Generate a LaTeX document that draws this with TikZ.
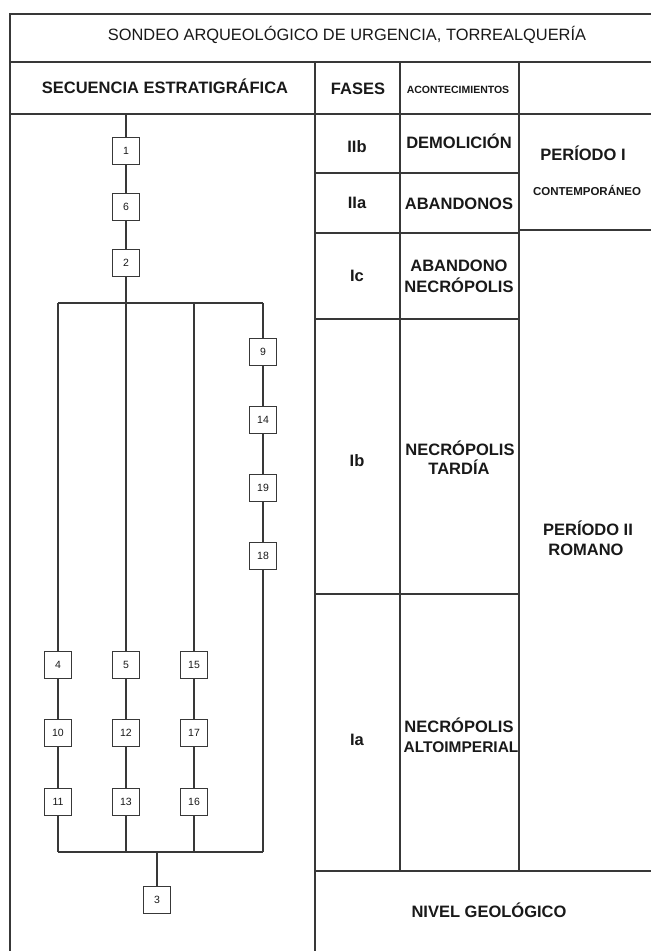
\documentclass[tikz,border=0pt]{standalone}
\usepackage{fontspec}
\setmainfont{Liberation Sans}
\definecolor{linecol}{gray}{0.22}
\definecolor{textcol}{gray}{0.1}
\begin{document}
\begin{tikzpicture}[x=1pt,y=-1pt,
  tl/.style={draw=linecol, line width=1.3pt},
  dl/.style={draw=linecol, line width=1.1pt},
  box/.style={draw=linecol, line width=1.1pt, fill=white, minimum width=27pt, minimum height=27pt, inner sep=0pt, font=\fontsize{10.5}{12}\selectfont, text=textcol},
  lab/.style={anchor=base, inner sep=0pt, text=textcol, font=\bfseries\fontsize{16.5}{20}\selectfont},
  small/.style={anchor=base, inner sep=0pt, text=textcol, font=\bfseries\fontsize{10.5}{12}\selectfont},
  ttl/.style={anchor=base, inner sep=0pt, text=textcol, font=\fontsize{16.4}{20}\selectfont},
]
\useasboundingbox (0,0) rectangle (651,951);
\fill[white] (0,0) rectangle (651,951);

% table
\draw[tl] (10,951) -- (10,14) -- (651,14);
\draw[tl] (10,62) -- (651,62);
\draw[tl] (10,114) -- (651,114);
\draw[tl] (315,62) -- (315,951);
\draw[tl] (400,62) -- (400,871);
\draw[tl] (519,62) -- (519,871);
\draw[tl] (315,173) -- (519,173);
\draw[tl] (315,233) -- (519,233);
\draw[tl] (519,230) -- (651,230);
\draw[tl] (315,319) -- (519,319);
\draw[tl] (315,594) -- (519,594);
\draw[tl] (315,871) -- (651,871);

% texts
\node[ttl] (title) at (347,40) {SONDEO ARQUEOLÓGICO DE URGENCIA, TORREALQUERÍA};
\node[lab] (hseq) at (165,93) {SECUENCIA ESTRATIGRÁFICA};
\node[lab] (hfas) at (358,94) {FASES};
\node[small] (hacon) at (458,93) {ACONTECIMIENTOS};
\node[lab] (f1) at (357,152) {IIb};
\node[lab] (e1) at (459,148.5) {DEMOLICIÓN};
\node[lab] (f2) at (357,208) {IIa};
\node[lab] (e2) at (459,209) {ABANDONOS};
\node[lab] (f3) at (357,281) {Ic};
\node[lab] (e3a) at (459,271) {ABANDONO};
\node[lab] (e3b) at (459,292) {NECRÓPOLIS};
\node[lab] (f4) at (357,466) {Ib};
\node[lab] (e4a) at (460,455) {NECRÓPOLIS};
\node[lab] (e4b) at (459,474) {TARDÍA};
\node[lab] (f5) at (357,745) {Ia};
\node[lab] (e5a) at (459,732) {NECRÓPOLIS};
\node[lab, font=\bfseries\fontsize{15.5}{20}\selectfont] (e5b) at (461,752) {ALTOIMPERIAL};
\node[lab] (p1) at (583,160) {PERÍODO I};
\node[anchor=base, inner sep=0pt, text=textcol, font=\bfseries\fontsize{11.5}{14}\selectfont] (p1b) at (587,195) {CONTEMPORÁNEO};
\node[lab] (p2a) at (588,535) {PERÍODO II};
\node[lab] (p2b) at (586,555) {ROMANO};
\node[lab] (geo) at (489,917) {NIVEL GEOLÓGICO};

% stratigraphic units
\node[box] (n1) at (126,151) {1};
\node[box] (n6) at (126,207) {6};
\node[box] (n2) at (126,263) {2};
\node[box] (n9) at (263,352) {9};
\node[box] (n14) at (263,420) {14};
\node[box] (n19) at (263,488) {19};
\node[box] (n18) at (263,556) {18};
\node[box] (n4) at (58,665) {4};
\node[box] (n10) at (58,733) {10};
\node[box] (n11) at (58,802) {11};
\node[box] (n5) at (126,665) {5};
\node[box] (n12) at (126,733) {12};
\node[box] (n13) at (126,802) {13};
\node[box] (n15) at (194,665) {15};
\node[box] (n17) at (194,733) {17};
\node[box] (n16) at (194,802) {16};
\node[box] (n3) at (157,900) {3};

\coordinate (top) at (126,114);
\coordinate (ta) at (58,303);
\coordinate (tb) at (126,303);
\coordinate (tc) at (194,303);
\coordinate (td) at (263,303);
\coordinate (ba) at (58,852);
\coordinate (bb) at (126,852);
\coordinate (bc) at (194,852);
\coordinate (bd) at (263,852);
\coordinate (bm) at (157,852);

\draw[dl] (top) -- (n1);
\draw[dl] (n1) -- (n6);
\draw[dl] (n6) -- (n2);
\draw[dl] (n2) -- (tb);
\draw[dl] (ta) -- (td);
\draw[dl] (ta) -- (n4);
\draw[dl] (tb) -- (n5);
\draw[dl] (tc) -- (n15);
\draw[dl] (td) -- (n9);
\draw[dl] (n9) -- (n14);
\draw[dl] (n14) -- (n19);
\draw[dl] (n19) -- (n18);
\draw[dl] (n18) -- (bd);
\draw[dl] (n4) -- (n10);
\draw[dl] (n10) -- (n11);
\draw[dl] (n11) -- (ba);
\draw[dl] (n5) -- (n12);
\draw[dl] (n12) -- (n13);
\draw[dl] (n13) -- (bb);
\draw[dl] (n15) -- (n17);
\draw[dl] (n17) -- (n16);
\draw[dl] (n16) -- (bc);
\draw[dl] (ba) -- (bd);
\draw[dl] (bm) -- (n3);
\end{tikzpicture}
\end{document}
